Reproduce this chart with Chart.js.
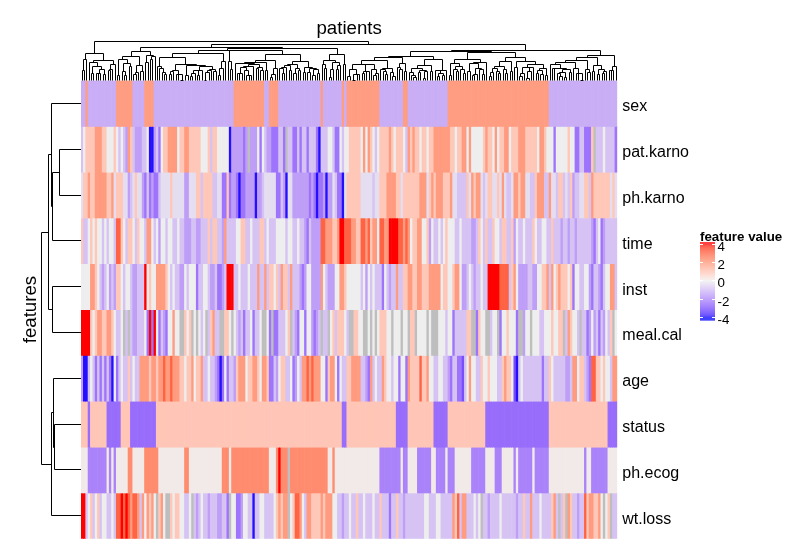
<!DOCTYPE html>
<html>
<head>
<meta charset="utf-8">
<script src="https://cdn.jsdelivr.net/npm/chart.js@4/dist/chart.umd.min.js"></script>
<style>
  html, body { margin: 0; padding: 0; background: #fff; }
  canvas { display: block; }
</style>
</head>
<body>
<canvas id="heatmap" width="790" height="547"></canvas>
<script>
// rows of the heatmap, top to bottom
const features = ['sex', 'pat.karno', 'ph.karno', 'time', 'inst', 'meal.cal', 'age', 'status', 'ph.ecog', 'wt.loss'];

// scaled feature values, one per patient column (null = missing)
const sex = [
  -1.2,-1.2,1.85,-1.2,-1.2,-1.2,-1.2,-1.2,-1.2,-1.2,
  -1.2,-1.2,-1.2,-1.2,-1.2,1.85,1.85,1.85,1.85,1.85,
  1.85,1.85,-1.2,-1.2,-1.2,-1.2,-1.2,1.85,1.85,1.85,
  1.85,-1.2,-1.2,-1.2,-1.2,-1.2,-1.2,-1.2,-1.2,-1.2,
  -1.2,-1.2,-1.2,-1.2,-1.2,-1.2,-1.2,-1.2,-1.2,-1.2,
  -1.2,-1.2,-1.2,-1.2,-1.2,-1.2,-1.2,-1.2,-1.2,-1.2,
  -1.2,-1.2,-1.2,-1.2,-1.2,1.85,1.85,1.85,1.85,1.85,
  1.85,1.85,1.85,1.85,1.85,1.85,1.85,1.85,-1.2,-1.2,
  1.85,1.85,1.85,1.85,-1.2,-1.2,-1.2,-1.2,-1.2,-1.2,
  -1.2,-1.2,-1.2,-1.2,-1.2,-1.2,-1.2,-1.2,-1.2,-1.2,
  -1.2,-1.2,1.85,-1.2,-1.2,-1.2,-1.2,-1.2,-1.2,-1.2,
  -1.2,1.85,-1.2,1.85,1.85,1.85,1.85,1.85,1.85,1.85,
  1.85,1.85,1.85,1.85,1.85,1.85,1.85,-1.2,-1.2,-1.2,
  -1.2,-1.2,-1.2,-1.2,-1.2,-1.2,-1.2,1.85,1.85,-1.2,
  -1.2,-1.2,-1.2,-1.2,-1.2,-1.2,-1.2,-1.2,-1.2,-1.2,
  -1.2,-1.2,-1.2,-1.2,-1.2,-1.2,1.85,1.85,1.85,1.85,
  1.85,1.85,1.85,1.85,1.85,1.85,1.85,1.85,1.85,1.85,
  1.85,1.85,1.85,1.85,1.85,1.85,1.85,1.85,1.85,1.85,
  1.85,1.85,1.85,1.85,1.85,1.85,1.85,1.85,1.85,1.85,
  1.85,1.85,1.85,1.85,1.85,1.85,1.85,1.85,1.85,-1.2,
  -1.2,-1.2,-1.2,-1.2,-1.2,-1.2,-1.2,-1.2,-1.2,-1.2,
  -1.2,-1.2,-1.2,-1.2,-1.2,-1.2,-1.2,-1.2,-1.2,-1.2,
  -1.2,-1.2,-1.2,-1.2,-1.2,-1.2,-1.2,-1.2
];

const patKarno = [
  -0.8,0,0.9,0.9,0.9,0.9,1.9,1.9,1.9,0.9,
  0.9,0,0,0,0.9,0,-0.8,0,-0.8,-1.5,
  1.9,0.9,-0.8,-1.5,-1.5,-1.5,-0.8,-0.8,0,-3.9,
  -3.9,-1.5,-0.8,-2.3,0,0.9,0.9,1.9,1.9,1.9,
  1.9,0,0.9,0.9,1.9,1.9,0.9,0.9,0.9,0.9,
  0.9,0,0,0,0.9,-0.8,0.9,0.9,0,0,
  0,0,0,-3.9,-1.5,-1.5,-1.5,-1.5,-1.5,-2.3,
  -1.5,null,-1.5,-1.5,-1.5,0,-2.3,0,-0.8,-1.5,
  -1.5,-2.3,-2.3,-2.3,-0.8,-0.8,-2.3,null,-0.8,-0.8,
  -2.3,-2.3,-0.8,-2.3,-0.8,-0.8,-2.3,-0.8,-0.8,-0.8,
  -2.3,-3.9,-0.8,-0.8,-0.8,0,0,-0.8,-2.3,-2.3,
  0,-0.8,0,0,0.9,0.9,0.9,0.9,0.9,0,
  1.9,0,1.9,0.9,0,-0.8,0,0.9,0.9,0.9,
  0.9,1.9,0.9,0,0.9,0.9,0.9,0,-0.8,1.9,
  0.9,1.9,0.9,0.9,0,0.9,0.9,0,0.9,0.9,
  1.9,1.9,1.9,1.9,1.9,1.9,1.9,0.9,0.9,0,
  0.9,0.9,1.9,1.9,0,1.9,0,0,0,0,
  0,0.9,1.9,0.9,0.9,0,1.9,0,0.9,0.9,
  1.9,1.9,0,0.9,0.9,0.9,1.9,1.9,1.9,0.9,
  0.9,0.9,0.9,0.9,0,1.9,1.9,0.9,0,0,
  0,-2.3,0,0,0,0,0,0.9,0,0,
  -2.3,-2.3,-0.8,-0.8,-2.3,-2.3,-2.3,0.9,null,-0.8,
  -0.8,-0.8,0,-0.8,-0.8,-0.8,-0.8,-2.3
];

const phKarno = [
  -0.3,0.9,0.9,1.9,0.9,0.9,1.9,1.9,1.9,1.9,
  1.9,0.9,0.9,1.9,-0.3,0.9,0.9,0.9,-0.3,-0.3,
  -1.5,-0.8,-0.3,0.9,-0.3,-0.3,-1.5,-2.3,-0.8,-2.3,
  -1.5,-2.3,-2.3,-0.8,-0.3,-0.3,-0.3,-0.3,0.9,-0.3,
  -0.3,-0.3,-0.3,-0.3,-1.5,-1.5,-0.3,-0.3,-0.3,0.9,
  0.9,-0.8,0.9,0.9,0.9,0.9,-0.8,-0.8,-0.3,-0.3,
  -2.3,-2.3,0.9,-2.3,-1.5,-1.5,-2.3,-3.9,-2.3,-2.3,
  -1.5,-1.5,-1.5,-1.5,-3.9,-1.5,-1.5,-0.8,-0.3,-0.3,
  -0.3,-0.3,-0.3,-2.3,-2.3,-0.8,-1.5,-3.9,-0.3,-0.3,
  -1.5,-1.5,-1.5,-1.5,-1.5,-1.5,-1.5,-2.3,-1.5,-2.3,
  -3.9,-2.3,-2.3,-1.5,-3.9,-1.5,-1.5,-0.3,-0.8,-2.3,
  -2.3,-3.9,-0.3,0.9,0.9,0.9,0.9,0.9,0.9,-0.3,
  -0.3,-0.3,-0.3,-0.3,-0.8,-0.3,-0.3,0.9,0.9,0.9,
  1.9,1.9,1.9,1.9,0.9,0.9,-0.3,0.9,0.9,0.9,
  0.9,0.9,0.9,0.9,1.9,1.9,1.9,-0.3,0.9,1.9,
  0.9,1.9,1.9,1.9,0.9,0.9,0.9,1.9,-0.3,-0.3,
  -0.8,-0.8,-0.8,-0.8,0.9,-0.3,1.9,0.9,1.9,1.9,
  -0.3,-0.8,-0.3,0.9,0.9,-0.3,-0.3,0.9,-0.3,1.9,
  -0.3,-0.8,-0.8,-0.3,1.9,1.9,0.9,1.9,1.9,-0.3,
  -0.3,-0.8,-0.8,0.9,1.9,1.9,1.9,-0.8,-0.8,1.9,
  -0.3,-0.3,-0.8,0.9,0.9,-0.8,-0.3,-0.8,0.9,-1.5,
  -0.8,-0.8,-0.3,-0.3,0.9,0.9,-0.8,1.9,0.9,0.9,
  0.9,0.9,0.9,0.9,0.9,-0.3,0.9,-0.3
];

const time = [
  0.9,-0.8,-0.8,0,0.9,0,0.9,0,0,-0.8,
  0,-0.8,0,0,-0.8,3,3,0.9,0,-0.8,
  0.9,0.9,0,-0.8,0.9,0,0,-0.8,1.9,1.9,
  0,-0.8,0,-1.5,0,0,-0.8,0,0,-0.8,
  -0.8,0,-0.8,-0.8,-1.5,-1.5,-1.5,-0.8,-0.8,-1.5,
  -1.5,-0.8,-0.8,-0.8,0.9,-0.8,0.9,0.9,-0.8,-0.8,
  -1.5,1.9,-0.8,-0.8,-0.8,-0.8,0,0,0.9,0.9,
  -0.8,-0.8,0,-0.8,-0.8,-0.8,0.9,0.9,-0.8,0,
  -0.8,-0.8,-0.8,0,0,0,0,-0.8,0,0,
  -0.8,-0.8,0,-0.8,-0.8,-1.5,-2.3,-0.8,-1.5,-1.5,
  -1.5,-1.5,3,3,1.9,1.9,1.9,0.9,0.9,1.9,
  4,4,3,3,3,1.9,1.9,0.9,0.9,3,
  3,1.9,3,0.9,1.9,1.9,0,3,3,1.9,
  1.9,4,4,4,4,3,3,1.9,3,1.9,
  0,0.9,0.9,1.9,1.9,0,0,0.9,-1.5,0,
  -0.8,-0.8,0,-0.8,0,0.9,0,0,0,-0.8,
  -0.8,0,-0.8,-0.8,-0.8,-0.8,-1.5,-1.5,-0.8,0.9,
  0,-0.8,0.9,-0.8,-0.8,0.9,0,0,-0.8,0.9,
  0.9,-0.8,-0.8,0.9,-1.5,0,-0.8,-0.8,0,-0.8,
  -0.8,-0.8,0.9,0,-0.8,-0.8,0,0,-0.8,-0.8,
  0.9,-0.8,-0.8,-0.8,-1.5,-0.8,-0.8,-1.5,-0.8,-0.8,
  -1.5,-0.8,-0.8,-0.8,-0.8,-0.8,-0.8,-1.5,-2.3,-0.8,
  0,-2.3,-1.5,-0.8,-0.8,-0.8,-0.8,-0.8
];

const inst = [
  0,0,0,0,1.9,1.9,0.9,0,-0.8,-1.5,
  -0.8,0,-1.5,-0.8,-1.5,0.9,0.9,0,-0.8,0,
  0,-0.8,-1.5,-1.5,-0.8,-0.8,-0.8,4,0,0.9,
  0,0,1.9,1.9,1.9,1.9,0.9,0,-0.8,0,
  -0.8,-0.8,-1.5,-1.5,0,-0.8,0,0,0,-2.3,
  -0.8,-0.8,0,0,-0.8,-1.5,-1.5,-0.8,-2.3,-2.3,
  -1.5,-0.8,4,4,4,-0.8,-0.8,0,-0.8,-0.8,
  -0.8,0,-0.8,-0.8,-0.8,1.9,-0.8,-0.8,1.9,-0.8,
  0.9,0.9,0,0.9,-0.8,1.9,0.9,0.9,-0.8,1.9,
  -0.8,-0.8,-0.8,-1.5,-2.3,-1.5,0,0,-1.5,-1.5,
  -1.5,-1.5,1.9,0,-0.8,-1.5,-1.5,-1.5,0,0,
  1.9,1.9,0.9,0,0,0,0,0,0,-0.8,
  0,-1.5,0,-0.8,0,-0.8,-0.8,-0.8,-2.3,0,
  -0.8,-1.5,-0.8,-0.8,1.9,-0.8,-0.8,0.9,0.9,1.9,
  1.9,0.9,0.9,1.9,1.9,0.9,0.9,0.9,1.9,1.9,
  1.9,1.9,1.9,0,0.9,0.9,0,0,0.9,1.9,
  1.9,0,-1.5,-1.5,-0.8,0,-0.8,-1.5,-0.8,-0.8,
  0,-0.8,-0.8,4,4,4,4,4,3,3,
  3,3,-0.8,0.9,1.9,0,-1.5,-1.5,-1.5,-1.5,
  -0.8,-0.8,-1.5,-1.5,0,0,0.9,0.9,1.9,-0.8,
  1.9,0,0.9,1.9,0.9,0.9,0.9,0,0.9,-2.3,
  0,0,-0.8,-0.8,0,0,-1.5,-2.3,-0.8,-0.8,
  -1.5,-2.3,-0.8,0,0,1.9,1.9,-0.8
];

const mealCal = [
  4,4,4,4,0.9,0,0.9,1.9,1.9,0.9,
  0.9,1.9,1.9,0.9,0,-0.8,-0.8,0,null,-0.8,
  null,-0.8,-1.5,-1.5,-0.8,-0.8,-0.8,0,-2.3,4,
  -2.3,4,0,-2.3,-0.8,-1.5,-2.3,0,0,1.9,
  0,0,null,null,0.9,0,0.9,null,0,null,
  0,-0.8,0,null,-0.8,0.9,1.9,-0.8,-0.8,null,
  null,0.9,0.9,0,null,0,-0.8,-1.5,-0.8,-2.3,
  -0.8,-0.8,0,-2.3,-0.8,-0.8,0,null,null,0,
  -2.3,null,-2.3,-2.3,-0.8,-0.8,-0.8,0,0.9,null,
  -0.8,-1.5,-2.3,0,0,-2.3,0,0,-1.5,-2.3,
  -1.5,-0.8,null,-0.8,-0.8,null,0,0.9,-0.8,0.9,
  0.9,0.9,0,-0.8,null,null,0.9,0.9,0,0,
  null,null,0,null,0,null,0,0.9,0.9,0.9,
  0,0,null,0,0,0,null,0,0,null,
  0.9,0.9,null,0,0,0,0,null,0,null,
  null,null,0,0,0,-0.8,0,0,-2.3,-0.8,
  -0.8,-0.8,-0.8,-0.8,0.9,0.9,null,null,-2.3,0.9,
  0,0,null,null,-0.8,0,0,null,-2.3,0,
  0,0.9,0,0,0,-2.3,null,null,-1.5,0,
  0,null,0,0,0,-0.8,-0.8,0,0,0,
  0.9,0,0,0.9,0.9,null,-0.8,1.9,0.9,0,
  0,-0.8,null,-0.8,-0.8,-2.3,-1.5,0,-1.5,-0.8,
  -2.3,-0.8,-1.5,0,-0.8,0.9,null,0
];

const age = [
  -1.5,-3.9,-3.9,-0.8,0,-0.8,-2.3,-0.8,-2.3,-0.8,
  -2.3,-0.8,-2.3,-3.9,0,-2.3,-0.8,0,-0.8,-0.8,
  0.9,-0.8,0,-0.8,-0.8,1.9,1.9,1.9,1.9,0.9,
  1.9,1.9,0.9,1.9,1.9,3,1.9,1.9,3,1.9,
  1.9,1.9,0.9,0.9,0,0.9,0.9,1.9,0,0.9,
  0.9,1.9,-0.8,-0.8,0,-0.8,-0.8,-1.5,-2.3,-3.9,
  -2.3,0,-2.3,-0.8,-0.8,-1.5,0.9,1.9,1.9,1.9,
  0,0.9,0.9,1.9,1.9,0.9,0,1.9,1.9,0.9,
  -2.3,-2.3,-0.8,-1.5,0,0.9,0.9,-0.8,-0.8,0,
  -2.3,-1.5,0,-0.8,1.9,1.9,3,1.9,3,1.9,
  1.9,1.9,0,0,-2.3,0.9,1.9,1.9,0,-2.3,
  0,-0.8,-0.8,0.9,0.9,1.9,1.9,1.9,1.9,-0.8,
  -0.8,-1.5,-2.3,1.9,-0.8,0,-0.8,-0.8,1.9,0.9,
  0,0,-0.8,0,0,-2.3,0,0,-2.3,1.9,
  0.9,0.9,0.9,0.9,3,0.9,0.9,1.9,0,0,
  -0.8,-0.8,0,0,-0.8,-0.8,-1.5,-2.3,-0.8,-0.8,
  -2.3,-2.3,-3,-0.8,0,1.9,0,0,-0.8,-0.8,
  0.9,0,0,0.9,0,0,0,-0.8,-0.8,0.9,
  1.9,0.9,0.9,0,-3,-3.9,-0.8,0,-0.8,-0.8,
  -0.8,-0.8,-0.8,-0.8,-0.8,-0.8,-2.3,-0.8,-0.8,0.9,
  0,-0.8,-0.8,-0.8,-0.8,-0.8,-1.5,-1.5,-0.8,1.9,
  1.9,0,0.9,0.9,-0.8,-1.5,-2.3,3,3,0.9,
  0.9,0,0.9,0,0,-0.8,1.9,1.9
];

const status = [
  0.93,0.93,0.93,-2.42,0.93,0.93,0.93,0.93,0.93,0.93,
  0.93,-2.42,-2.42,-2.42,-2.42,-2.42,-2.42,0.93,0.93,0.93,
  0.93,-2.42,-2.42,-2.42,-2.42,-2.42,-2.42,-2.42,-2.42,-2.42,
  -2.42,-2.42,0.93,0.93,0.93,0.93,0.93,0.93,0.93,0.93,
  0.93,0.93,0.93,0.93,0.93,0.93,0.93,0.93,0.93,0.93,
  0.93,0.93,0.93,0.93,0.93,0.93,0.93,0.93,0.93,0.93,
  0.93,0.93,0.93,0.93,0.93,0.93,0.93,0.93,0.93,0.93,
  0.93,0.93,0.93,0.93,0.93,0.93,0.93,0.93,0.93,0.93,
  0.93,0.93,0.93,0.93,0.93,0.93,0.93,0.93,0.93,0.93,
  0.93,0.93,0.93,0.93,0.93,0.93,0.93,0.93,0.93,0.93,
  0.93,0.93,0.93,0.93,0.93,0.93,0.93,0.93,0.93,0.93,
  0.93,-2.42,-2.42,0.93,0.93,0.93,0.93,0.93,0.93,0.93,
  0.93,0.93,0.93,0.93,0.93,0.93,0.93,0.93,0.93,0.93,
  0.93,0.93,0.93,0.93,-2.42,-2.42,-2.42,-2.42,-2.42,0.93,
  0.93,0.93,0.93,0.93,0.93,0.93,0.93,0.93,0.93,0.93,
  -2.42,-2.42,-2.42,-2.42,-2.42,-2.42,0.93,0.93,0.93,0.93,
  0.93,0.93,0.93,0.93,0.93,0.93,0.93,0.93,0.93,0.93,
  0.93,0.93,-2.42,-2.42,-2.42,-2.42,-2.42,-2.42,-2.42,-2.42,
  -2.42,-2.42,-2.42,-2.42,-2.42,-2.42,-2.42,-2.42,-2.42,-2.42,
  -2.42,-2.42,-2.42,-2.42,-2.42,-2.42,-2.42,-2.42,-2.42,0.93,
  0.93,0.93,0.93,0.93,0.93,0.93,0.93,0.93,0.93,0.93,
  0.93,0.93,0.93,0.93,0.93,0.93,0.93,0.93,0.93,0.93,
  0.93,0.93,0.93,0.93,-2.42,-2.42,-2.42,-2.42
];

const phEcog = [
  0.1,0.1,0.1,-2,-2,-2,-2,-2,-2,-2,
  -2,0.1,-2,0.1,-2,0.1,0.1,0.1,0.1,0.1,
  2.2,2.2,0.1,0.1,0.1,0.1,0.1,2.2,2.2,2.2,
  2.2,2.2,2.2,0.1,0.1,0.1,0.1,0.1,0.1,0.1,
  0.1,0.1,0.1,0.1,2.2,2.2,0.1,0.1,0.1,0.1,
  0.1,0.1,0.1,0.1,0.1,0.1,0.1,0.1,0.1,0.1,
  2.2,2.2,2.2,0.1,2.2,2.2,2.2,2.2,2.2,2.2,
  2.2,2.2,2.2,2.2,2.2,2.2,2.2,2.2,2.2,2.2,
  0.1,0.1,0.1,2.2,4.3,2.2,2.2,2.2,null,2.2,
  2.2,2.2,2.2,2.2,2.2,2.2,2.2,2.2,2.2,2.2,
  2.2,2.2,2.2,2.2,2.2,0.1,0.1,2.2,0.1,0.1,
  0.1,0.1,0.1,0.1,0.1,0.1,0.1,0.1,0.1,0.1,
  0.1,0.1,0.1,0.1,0.1,0.1,0.1,-2,-2,-2,
  -2,-2,-2,-2,-2,-2,0.1,-2,-2,0.1,
  0.1,0.1,0.1,-2,-2,-2,-2,-2,-2,0.1,
  0.1,-2,-2,-2,-2,0.1,-2,-2,-2,0.1,
  0.1,0.1,0.1,0.1,0.1,0.1,-2,-2,-2,-2,
  -2,-2,0.1,0.1,0.1,0.1,-2,-2,-2,0.1,
  0.1,0.1,0.1,0.1,-2,0.1,-2,-2,-2,-2,
  -2,-2,0.1,-2,-2,-2,-2,-2,-2,0.1,
  0.1,0.1,0.1,0.1,0.1,0.1,0.1,0.1,0.1,0.1,
  0.1,0.1,0.1,0.1,-2,0.1,0.1,-2,-2,-2,
  -2,-2,-2,-2,0.1,0.1,0.1,0.1
];

const wtLoss = [
  4,4,-0.8,0,0.9,-0.8,0,0.9,-0.8,0,
  0,-0.8,-0.8,0,-0.8,3,3,4,3,4,
  3,1.9,3,3,1.9,-0.8,1.9,0,1.9,0.9,
  1.9,0,null,0.9,1.9,0,null,null,0.9,0,
  0.9,0.9,0,0,-0.8,-0.8,0,null,-0.8,-1.5,
  -0.8,0,-0.8,-0.8,-1.5,-0.8,-0.8,-0.8,-1.5,-1.5,
  -0.8,-0.8,-2.3,null,0,0,-2.3,-2.3,-1.5,0,
  0,-0.8,-0.8,-3.9,-0.8,-0.8,0,0,-0.8,-0.8,
  -0.8,-0.8,0,0.9,1.9,0.9,1.9,1.9,null,0,
  0.9,3,3,1.9,0,-0.8,1.9,1.9,0.9,0.9,
  0.9,0.9,1.9,0.9,1.9,1.9,1.9,0,0,-0.8,
  -0.8,-1.5,-0.8,-0.8,0,-0.8,-0.8,0.9,-0.8,-0.8,
  0,-0.8,-0.8,-0.8,0,-0.8,-0.8,0.9,-0.8,-0.8,
  -0.8,-2.3,-0.8,-0.8,0.9,-0.8,-0.8,-1.5,-0.8,-0.8,
  -0.8,-0.8,-0.8,-0.8,-0.8,-0.8,0,0,-0.8,-0.8,
  -0.8,0,0,-0.8,-0.8,-0.8,-0.8,-0.8,1.9,0.9,
  3,-0.8,1.9,1.9,-0.8,-0.8,-0.8,0,-0.8,0,
  null,-0.8,-0.8,-1.5,-0.8,-0.8,-0.8,-0.8,0,-0.8,
  -0.8,-0.8,-0.8,-0.8,-0.8,-1.5,-0.8,-0.8,0.9,-0.8,
  -0.8,1.9,-0.8,-0.8,-0.8,0,-0.8,-0.8,-0.8,-0.8,
  0.9,1.9,-0.8,null,-0.8,0.9,null,1.9,0.9,-0.8,
  -0.8,-1.5,-0.8,-0.8,3,0.9,1.9,1.9,0.9,0.9,
  1.9,0,null,0,0.9,null,-0.8,-0.8
];

const rows = [sex, patKarno, phKarno, time, inst, mealCal, age, status, phEcog, wtLoss];
const patients = sex.map((_, i) => 'patient ' + (i + 1));

// row dendrogram (hclust style: -k = leaf k, +k = merge k)
const rowMerges = [[-2, -3], [-8, -9], [-7, 2], [1, -4], [-5, -6], [3, -10], [-1, 4], [7, 5], [8, 6]];
const rowHeights = [21.7, 26.7, 27.7, 28.7, 28.7, 29.3, 30.0, 32.7, 39.7];

// colour mapping and legend
const colorBreaks = [-4, 0, 4];
const breakColors = ['#0000FF', '#EEEEEE', '#FF0000'];
const legendTicks = [4, 2, 0, -2, -4];
const naColor = '#BEBEBE';

// ---- colour helpers (interpolation in LAB, like colorRamp2) ----
function hexToRgb(h) {
  return [parseInt(h.slice(1, 3), 16), parseInt(h.slice(3, 5), 16), parseInt(h.slice(5, 7), 16)];
}
function rgbToLab(rgb) {
  const lin = rgb.map(c => { c /= 255; return c <= 0.04045 ? c / 12.92 : Math.pow((c + 0.055) / 1.055, 2.4); });
  const X = (0.4124564 * lin[0] + 0.3575761 * lin[1] + 0.1804375 * lin[2]) / 0.95047;
  const Y = 0.2126729 * lin[0] + 0.7151522 * lin[1] + 0.0721750 * lin[2];
  const Z = (0.0193339 * lin[0] + 0.1191920 * lin[1] + 0.9503041 * lin[2]) / 1.08883;
  const f = t => t > 216 / 24389 ? Math.cbrt(t) : (24389 / 27 * t + 16) / 116;
  const fx = f(X), fy = f(Y), fz = f(Z);
  return [116 * fy - 16, 500 * (fx - fy), 200 * (fy - fz)];
}
function labToRgb(lab) {
  const fy = (lab[0] + 16) / 116, fx = fy + lab[1] / 500, fz = fy - lab[2] / 200;
  const inv = t => t * t * t > 216 / 24389 ? t * t * t : (116 * t - 16) / (24389 / 27);
  const X = inv(fx) * 0.95047, Y = inv(fy), Z = inv(fz) * 1.08883;
  const lin = [
    3.2404542 * X - 1.5371385 * Y - 0.4985314 * Z,
    -0.9692660 * X + 1.8760108 * Y + 0.0415560 * Z,
    0.0556434 * X - 0.2040259 * Y + 1.0572252 * Z
  ];
  return lin.map(c => {
    c = Math.max(0, Math.min(1, c));
    c = c <= 0.0031308 ? 12.92 * c : 1.055 * Math.pow(c, 1 / 2.4) - 0.055;
    return Math.round(c * 255);
  });
}
const breakLabs = breakColors.map(c => rgbToLab(hexToRgb(c)));

function valueColor(v) {
  if (v === null || v === undefined) return naColor;
  v = Math.max(colorBreaks[0], Math.min(colorBreaks[colorBreaks.length - 1], v));
  let k = 0;
  while (k < colorBreaks.length - 2 && v > colorBreaks[k + 1]) k++;
  const t = (v - colorBreaks[k]) / (colorBreaks[k + 1] - colorBreaks[k]);
  const a = breakLabs[k], b = breakLabs[k + 1];
  const rgb = labToRgb([0, 1, 2].map(i => a[i] + (b[i] - a[i]) * t));
  return 'rgb(' + rgb.join(',') + ')';
}

// ---- column dendrogram: complete linkage, merging neighbouring columns only ----
function columnTree(mat) {
  const n = mat[0].length;
  const d = [];
  for (let i = 0; i < n; i++) d.push(new Float64Array(n));
  for (let i = 0; i < n; i++) {
    for (let j = i + 1; j < n; j++) {
      let s = 0, c = 0;
      for (let r = 0; r < mat.length; r++) {
        const a = mat[r][i], b = mat[r][j];
        if (a === null || b === null) continue;
        s += (a - b) * (a - b);
        c++;
      }
      d[i][j] = d[j][i] = c ? Math.sqrt(s * mat.length / c) : 0;
    }
  }
  let nodes = [];
  for (let i = 0; i < n; i++) nodes.push({ pos: i, h: 0, lo: i, hi: i });
  while (nodes.length > 1) {
    let best = 0, bestD = Infinity;
    for (let k = 0; k < nodes.length - 1; k++) {
      const A = nodes[k], B = nodes[k + 1];
      let m = 0;
      for (let i = A.lo; i <= A.hi; i++)
        for (let j = B.lo; j <= B.hi; j++)
          if (d[i][j] > m) m = d[i][j];
      if (m < bestD) { bestD = m; best = k; }
    }
    const A = nodes[best], B = nodes[best + 1];
    nodes.splice(best, 2, { pos: (A.pos + B.pos) / 2, h: bestD, lo: A.lo, hi: B.hi, kids: [A, B] });
  }
  return nodes[0];
}
const colTree = columnTree(rows);

// ---- layout of the decorations around the heatmap body ----
const colDendSpan = 38.8;   // px from heatmap top to the column root
const rowDendSpan = 39.7;   // px from heatmap left to the row root

const decorPlugin = {
  id: 'decor',
  afterDraw(chart) {
    const { ctx, chartArea: a, scales: { x, y } } = chart;
    ctx.save();
    ctx.strokeStyle = '#000';
    ctx.lineWidth = 1;
    const snap = v => Math.round(v - 0.5) + 0.5;

    // column dendrogram
    const cy = h => a.top - h / colTree.h * colDendSpan;
    ctx.beginPath();
    (function walk(node) {
      if (!node.kids) return;
      const [A, B] = node.kids;
      const xa = snap(x.getPixelForValue(A.pos)), xb = snap(x.getPixelForValue(B.pos));
      ctx.moveTo(xa, cy(A.h));
      ctx.lineTo(xa, snap(cy(node.h)));
      ctx.lineTo(xb, snap(cy(node.h)));
      ctx.lineTo(xb, cy(B.h));
      walk(A); walk(B);
    })(colTree);
    ctx.stroke();

    // row dendrogram
    const maxH = Math.max(...rowHeights);
    const rx = h => a.left - h / maxH * rowDendSpan;
    const mergePos = [], mergeH = [];
    const posOf = k => k < 0 ? -k - 1 + 0.5 : mergePos[k - 1];
    const hOf = k => k < 0 ? 0 : mergeH[k - 1];
    ctx.beginPath();
    rowMerges.forEach(([p, q], m) => {
      const h = rowHeights[m];
      const ya = snap(y.getPixelForValue(posOf(p))), yb = snap(y.getPixelForValue(posOf(q)));
      ctx.moveTo(rx(hOf(p)), ya);
      ctx.lineTo(snap(rx(h)), ya);
      ctx.lineTo(snap(rx(h)), yb);
      ctx.lineTo(rx(hOf(q)), yb);
      mergePos.push((posOf(p) + posOf(q)) / 2);
      mergeH.push(h);
    });
    ctx.stroke();

    // titles
    ctx.fillStyle = '#000';
    ctx.font = '18.67px "Liberation Sans", Arial, sans-serif';
    ctx.textAlign = 'center';
    ctx.textBaseline = 'alphabetic';
    ctx.fillText('patients', (a.left + a.right) / 2, 33.5);
    ctx.save();
    ctx.translate(35.5, (a.top + a.bottom) / 2);
    ctx.rotate(-Math.PI / 2);
    ctx.fillText('features', 0, 0);
    ctx.restore();

    // row names
    ctx.font = '16px "Liberation Sans", Arial, sans-serif';
    ctx.textAlign = 'left';
    ctx.textBaseline = 'middle';
    features.forEach((f, i) => ctx.fillText(f, a.right + 5, y.getPixelForValue(i + 0.5) + 3.5));

    // legend
    const lx = 700, lw = 15, top = 242, bottom = 320.5;
    const ty = v => 280.9 - v * 9.1;
    ctx.font = 'bold 13.33px "Liberation Sans", Arial, sans-serif';
    ctx.textBaseline = 'alphabetic';
    ctx.fillText('feature value', lx, 240.5);
    for (let py = top; py < bottom; py += 0.5) {
      ctx.fillStyle = valueColor((280.9 - (py + 0.25)) / 9.1);
      ctx.fillRect(lx, py, lw, 0.5);
    }
    ctx.strokeStyle = '#fff';
    ctx.beginPath();
    legendTicks.forEach(v => {
      const yy = snap(ty(v));
      ctx.moveTo(lx, yy); ctx.lineTo(lx + 3, yy);
      ctx.moveTo(lx + lw - 3, yy); ctx.lineTo(lx + lw, yy);
    });
    ctx.stroke();
    ctx.fillStyle = '#000';
    ctx.font = '13.33px "Liberation Sans", Arial, sans-serif';
    ctx.textBaseline = 'middle';
    legendTicks.forEach(v => ctx.fillText(String(v), 717.5, ty(v) + 2.8));
    ctx.restore();
  }
};

new Chart(document.getElementById('heatmap'), {
  type: 'bar',
  data: {
    labels: patients,
    datasets: features.map((name, r) => ({
      label: name,
      data: rows[r].map(() => 1),
      backgroundColor: rows[r].map(valueColor),
      borderWidth: 0,
      barPercentage: 1,
      categoryPercentage: 1
    }))
  },
  options: {
    responsive: false,
    animation: false,
    events: [],
    layout: { padding: { left: 81, top: 80.5, right: 172.7, bottom: 8.3 } },
    plugins: { legend: { display: false }, tooltip: { enabled: false }, title: { display: false } },
    scales: {
      x: { type: 'category', stacked: true, display: false, grid: { display: false } },
      y: { type: 'linear', stacked: true, display: false, min: 0, max: 10, reverse: true }
    }
  },
  plugins: [decorPlugin]
});
</script>
</body>
</html>
